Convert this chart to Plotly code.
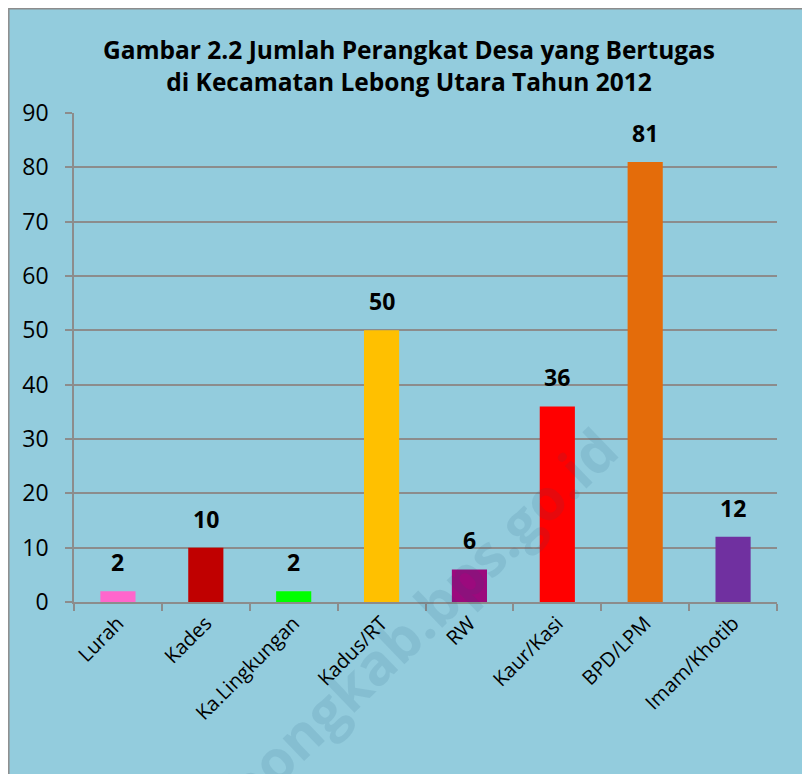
import plotly.graph_objects as go

categories = ["Lurah", "Kades", "Ka.Lingkungan", "Kadus/RT", "RW", "Kaur/Kasi", "BPD/LPM", "Imam/Khotib"]
values = [2, 10, 2, 50, 6, 36, 81, 12]
colors = ["#FF66CC", "#C00000", "#00FF00", "#FFC000", "#9B0A7D", "#FF0000", "#E46C0A", "#7030A0"]
title_text = "Gambar 2.2 Jumlah Perangkat Desa yang Bertugas<br>di Kecamatan Lebong Utara Tahun 2012"
watermark = "lebongkab.bps.go.id"

OFF = 8  # page body margin
W, H = 810 - OFF, 774 - OFF
L, R, T, B = 74 - OFF, 777 - OFF, 113 - OFF, 602 - OFF

def px(x):
    return (x - OFF - L) / (R - L)

def py(y):
    return (B - (y - OFF)) / (B - T)

FONT = "Open Sans"

fig = go.Figure(go.Bar(
    x=categories, y=values,
    marker=dict(color=colors, line=dict(width=0)),
    hoverinfo="x+y",
))

annotations = [dict(text=watermark, xref="paper", yref="paper",
                    x=px(402), y=py(636), xanchor="center", yanchor="middle",
                    showarrow=False, textangle=-44,
                    font=dict(family=FONT, size=57, color="rgba(30,80,115,0.11)", weight="bold"))]
for c, v in zip(categories, values):
    annotations.append(dict(x=c, y=v, xref="x", yref="y", text=str(v), showarrow=False,
                            xanchor="center", yanchor="bottom", yshift=11,
                            font=dict(family=FONT, size=23, color="black", weight="bold")))

fig.update_layout(
    width=W, height=H,
    margin=dict(l=L, r=W - R, t=T, b=H - B, pad=0),
    paper_bgcolor="white", plot_bgcolor="rgba(0,0,0,0)",
    bargap=0.6, showlegend=False,
    font=dict(family=FONT, color="black"),
    title=dict(text=title_text, x=0.5, xanchor="center", xref="container",
               y=1 - (59 - OFF) / H, yanchor="middle", yref="container",
               font=dict(family=FONT, size=24.5, color="black", weight="bold")),
    shapes=[dict(type="rect", xref="paper", yref="paper", layer="below",
                 x0=px(OFF + 0.8), x1=px(815), y0=py(780), y1=py(OFF + 0.8),
                 fillcolor="#93CCDD", line=dict(color="#8C8C8C", width=1.5))],
    annotations=annotations,
)

fig.update_yaxes(range=[0, 90], dtick=10, showgrid=True, gridcolor="#8C8C8C", gridwidth=1.5,
                 showline=True, linecolor="#8C8C8C", linewidth=1.5,
                 ticks="outside", ticklen=7, tickcolor="#8C8C8C", tickwidth=1.5,
                 ticklabelstandoff=12,
                 tickfont=dict(family=FONT, size=23, color="black"), zeroline=False)
fig.update_xaxes(showline=True, linecolor="#8C8C8C", linewidth=1.5,
                 ticks="outside", ticklen=7, tickcolor="#8C8C8C", tickwidth=1.5,
                 tickson="boundaries", tickangle=-45,
                 tickfont=dict(family=FONT, size=20, color="black"))

fig.write_html("out.html")
